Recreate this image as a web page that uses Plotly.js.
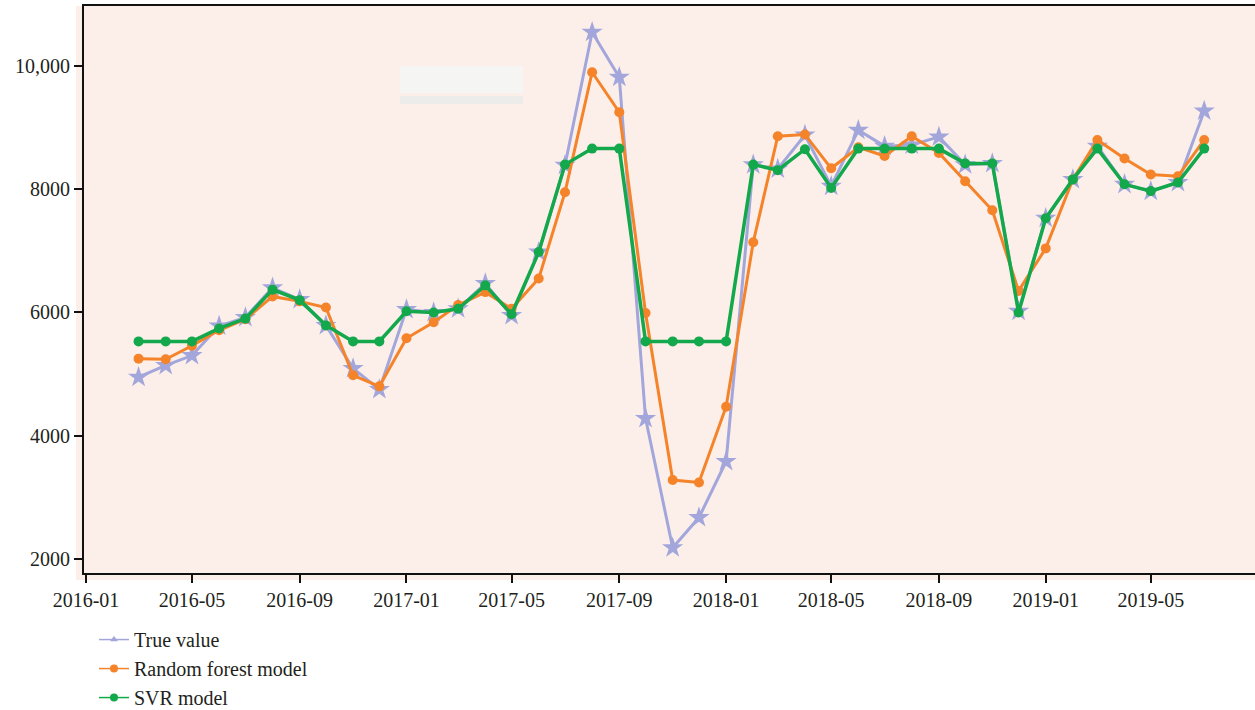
<!DOCTYPE html>
<html>
<head>
<meta charset="utf-8">
<script src="https://cdn.plot.ly/plotly-3.0.1.min.js"></script>
<style>html,body{margin:0;padding:0;background:#fff;}#chart{width:1255px;height:710px;}</style>
</head>
<body>
<div id="chart"></div>
<script>
const months = ["2016-03","2016-04","2016-05","2016-06","2016-07","2016-08","2016-09","2016-10","2016-11","2016-12",
"2017-01","2017-02","2017-03","2017-04","2017-05","2017-06","2017-07","2017-08","2017-09","2017-10","2017-11","2017-12",
"2018-01","2018-02","2018-03","2018-04","2018-05","2018-06","2018-07","2018-08","2018-09","2018-10","2018-11","2018-12",
"2019-01","2019-02","2019-03","2019-04","2019-05","2019-06","2019-07"];
const trueValue = [4950,5140,5300,5780,5920,6400,6210,5790,5090,4750,
6050,6000,6060,6470,5950,6980,8390,10550,9820,4280,2180,2670,
3580,8400,8330,8880,8050,8960,8700,8720,8850,8400,8420,6020,
7530,8160,8700,8080,7970,8110,9270];
const randomForest = [5250,5240,5460,5710,5890,6260,6180,6080,4980,4800,
5580,5840,6120,6330,6060,6550,7950,9900,9250,5990,3280,3240,
4470,7140,8860,8890,8340,8680,8540,8860,8590,8130,7660,6350,
7040,8160,8800,8500,8240,8210,8800];
const svr = [5530,5530,5530,5740,5900,6370,6200,5790,5530,5530,
6020,6000,6060,6440,5970,6980,8400,8660,8660,5530,5530,5530,
5530,8400,8310,8650,8020,8660,8660,8660,8660,8420,8420,6000,
7530,8160,8660,8080,7970,8110,8660];
const xTicks = ["2016-01-01","2016-05-01","2016-09-01","2017-01-01","2017-05-01","2017-09-01","2018-01-01","2018-05-01","2018-09-01","2019-01-01","2019-05-01"];
const xTickText = ["2016-01","2016-05","2016-09","2017-01","2017-05","2017-09","2018-01","2018-05","2018-09","2019-01","2019-05"];
const yTicks = [2000,4000,6000,8000,10000];
const yTickText = ["2000","4000","6000","8000","10,000"];
const seriesNames = ["True value", "Random forest model", "SVR model"];
const colors = ["#a3a6da", "#f5832a", "#13a84b"];

const x = months.map(m => m + "-01");
const traces = [
  {x: x, y: trueValue, name: seriesNames[0], type: "scatter", mode: "lines+markers", showlegend: false,
   line: {color: colors[0], width: 3}, marker: {symbol: "star", size: 16, color: colors[0]}},
  {x: x, y: randomForest, name: seriesNames[1], type: "scatter", mode: "lines+markers", showlegend: false,
   line: {color: colors[1], width: 3}, marker: {symbol: "circle", size: 10, color: colors[1]}},
  {x: x, y: svr, name: seriesNames[2], type: "scatter", mode: "lines+markers", showlegend: false,
   line: {color: colors[2], width: 3.5}, marker: {symbol: "circle", size: 10, color: colors[2]}},
  // legend-only entries (no data drawn), styled like the reference legend keys
  {x: [null], y: [null], name: seriesNames[0], type: "scatter", mode: "lines+markers",
   line: {color: colors[0], width: 1.5}, marker: {symbol: "triangle-up", size: 7, color: colors[0]}},
  {x: [null], y: [null], name: seriesNames[1], type: "scatter", mode: "lines+markers",
   line: {color: colors[1], width: 1.5}, marker: {symbol: "circle", size: 8, color: colors[1]}},
  {x: [null], y: [null], name: seriesNames[2], type: "scatter", mode: "lines+markers",
   line: {color: colors[2], width: 1.5}, marker: {symbol: "circle", size: 8, color: colors[2]}}
];
const layout = {
  width: 1255, height: 710,
  margin: {l: 84, r: 0, t: 6, b: 137, autoexpand: false},
  paper_bgcolor: "#ffffff",
  plot_bgcolor: "#fcefea",
  font: {family: "Liberation Serif, Times New Roman, serif", color: "#231f20", size: 20},
  showlegend: true,
  legend: {x: 10/1171, xanchor: "left", y: -0.083, yanchor: "top", orientation: "v",
    font: {size: 20, color: "#231f20"}, bgcolor: "rgba(0,0,0,0)", tracegroupgap: 0},
  xaxis: {type: "date", range: ["2015-12-29 17:00", "2019-08-28"], tickvals: xTicks, ticktext: xTickText,
    showgrid: false, zeroline: false, showline: true, linecolor: "#111", linewidth: 2, mirror: true,
    ticks: "outside", ticklen: 8, tickwidth: 2, tickcolor: "#111", tickfont: {size: 20}},
  yaxis: {range: [1770, 10975], tickvals: yTicks, ticktext: yTickText,
    showgrid: false, zeroline: false, showline: true, linecolor: "#111", linewidth: 2,
    ticks: "outside", ticklen: 8, tickwidth: 2, tickcolor: "#111", tickfont: {size: 20}},
  shapes: [
    {type: "rect", xref: "paper", yref: "paper", x0: -8/1171, x1: 1, y0: -7/567, y1: 1,
     fillcolor: "#fcefea", line: {width: 0}, layer: "below"},
    {type: "rect", xref: "paper", yref: "paper", x0: 316/1171, x1: 439/1171, y0: (567-87)/567, y1: (567-60)/567,
     fillcolor: "#f5f5f4", line: {width: 0}, layer: "below"},
    {type: "rect", xref: "paper", yref: "paper", x0: 316/1171, x1: 439/1171, y0: (567-98)/567, y1: (567-90)/567,
     fillcolor: "#ececeb", line: {width: 0}, layer: "below"}
  ]
};
Plotly.newPlot("chart", traces, layout, {displayModeBar: false, staticPlot: true});
</script>
</body>
</html>
